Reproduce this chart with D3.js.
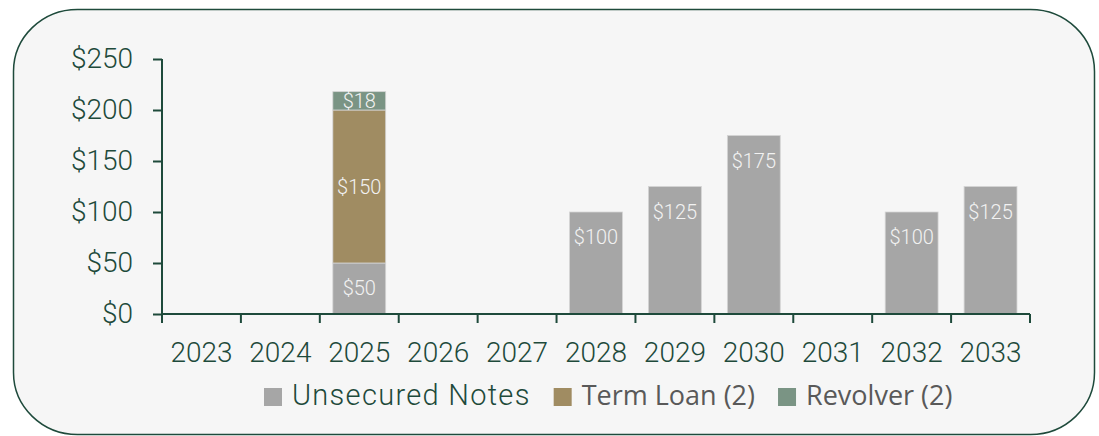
<!DOCTYPE html>
<html>
<head>
<meta charset="utf-8">
<script src="https://cdn.jsdelivr.net/npm/d3@7"></script>
<style>
  body { margin: 0; background: #ffffff; }
  svg text { font-family: Roboto, "Liberation Sans", Arial, sans-serif; font-weight: 300; }
</style>
</head>
<body>
<div id="chart"></div>
<script>
// donnees du graphique
var years = ["2023", "2024", "2025", "2026", "2027", "2028", "2029", "2030", "2031", "2032", "2033"]
var unsecuredNotes = [0, 0, 50, 0, 0, 100, 125, 175, 0, 100, 125]
var termLoan = [0, 0, 150, 0, 0, 0, 0, 0, 0, 0, 0]
var revolver = [0, 0, 18, 0, 0, 0, 0, 0, 0, 0, 0]
var seriesNames = ["Unsecured Notes", "Term Loan (2)", "Revolver (2)"]
var yTicks = [0, 50, 100, 150, 200, 250]

var width = 1099
var height = 436
var green = "#1e4a3b"

var svg = d3.select("#chart")
  .append("svg")
    .attr("width", width)
    .attr("height", height)

// cadre arrondi
svg.append("rect")
  .attr("x", 13.5)
  .attr("y", 9.5)
  .attr("width", 1081)
  .attr("height", 425)
  .attr("rx", 64)
  .attr("ry", 62)
  .style("fill", "#f6f6f6")
  .style("stroke", green)
  .style("stroke-width", 1.5)

// table pour d3.stack
var table = years.map(function(y, i) {
  return { year: y, "Unsecured Notes": unsecuredNotes[i], "Term Loan (2)": termLoan[i], "Revolver (2)": revolver[i] }
})

var color = d3.scaleOrdinal()
  .domain(seriesNames)
  .range(["#a6a6a6", "#a08c62", "#7a9484"])

var x = d3.scaleBand()
  .domain(years)
  .range([162, 1030])
  .padding(0)

var y = d3.scaleLinear()
  .domain([0, 250])
  .range([314, 59])

var barW = x.bandwidth() * 0.67
var barOff = (x.bandwidth() - barW) / 2

var stacked = d3.stack().keys(seriesNames)(table)

// barres
var layers = svg.append("g")
  .selectAll("g")
  .data(stacked)
  .enter()
  .append("g")
    .style("fill", function(d){ return color(d.key) })

layers.selectAll("rect")
  .data(function(d){ return d.filter(function(p){ return p[1] - p[0] > 0 }) })
  .enter()
  .append("rect")
    .attr("x", function(d){ return x(d.data.year) + barOff })
    .attr("y", function(d){ return y(d[1]) })
    .attr("width", barW)
    .attr("height", function(d){ return y(d[0]) - y(d[1]) })
    .style("stroke", "#d4d4d4")
    .style("stroke-width", 0.8)

// etiquettes des barres
layers.each(function(s) {
  d3.select(this).selectAll("text")
    .data(s.filter(function(p){ return p[1] - p[0] > 0 }))
    .enter()
    .append("text")
      .attr("x", function(d){ return x(d.data.year) + x.bandwidth() / 2 })
      .attr("y", function(d){
        // les billets non garantis : etiquette en haut, les autres au centre
        if (s.key == "Unsecured Notes") return y(d[1]) + 25
        return (y(d[0]) + y(d[1])) / 2
      })
      .attr("text-anchor", "middle")
      .attr("dominant-baseline", "central")
      .style("font-size", "20px")
      .style("fill", "#f2f2f2")
      .text(function(d){ return "$" + (d[1] - d[0]) })
})

// axe Y
var yAxis = svg.append("g")
  .attr("transform", "translate(162,0)")
  .call(d3.axisLeft(y).tickValues(yTicks).tickSize(9).tickPadding(20).tickFormat(function(d){ return "$" + d }))
yAxis.select(".domain").remove()
yAxis.append("line")
  .attr("x1", 0).attr("x2", 0)
  .attr("y1", y(250)).attr("y2", y(0))
  .style("stroke", green).style("stroke-width", 2)
yAxis.selectAll("line").style("stroke", green).style("stroke-width", 2)
yAxis.selectAll("text")
  .style("font-size", "28px")
  .style("fill", green)
  .style("font-family", null)

// axe X : graduations entre les categories
var xAxis = svg.append("g")
  .attr("transform", "translate(0,314)")
xAxis.append("line")
  .attr("x1", 162).attr("x2", 1030)
  .style("stroke", green).style("stroke-width", 2)
xAxis.selectAll("line.tick")
  .data(years.concat(["end"]))
  .enter()
  .append("line")
    .attr("class", "tick")
    .attr("x1", function(d){ return d == "end" ? x.range()[1] : x(d) })
    .attr("x2", function(d){ return d == "end" ? x.range()[1] : x(d) })
    .attr("y1", 0)
    .attr("y2", 9)
    .style("stroke", green).style("stroke-width", 2)
xAxis.selectAll("text")
  .data(years)
  .enter()
  .append("text")
    .attr("x", function(d){ return x(d) + x.bandwidth() / 2 })
    .attr("y", 48)
    .attr("text-anchor", "middle")
    .style("font-size", "28px")
    .style("fill", green)
    .text(function(d){ return d })

// legende
var legend = svg.append("g")
var lx = 264
seriesNames.forEach(function(name, i) {
  legend.append("rect")
    .attr("x", lx)
    .attr("y", 388)
    .attr("width", 18)
    .attr("height", 18)
    .style("fill", color(name))
  var t = legend.append("text")
    .attr("x", lx + 28)
    .attr("y", 405)
    .style("font-size", i == 0 ? "29px" : "27px")
    .style("letter-spacing", i == 0 ? "1.3px" : null)
    .style("font-family", i == 0 ? null : "'Open Sans', sans-serif")
    .style("font-weight", i == 0 ? 300 : 400)
    .style("fill", i == 0 ? green : "#595959")
    .text(name)
  lx = lx + 28 + t.node().getComputedTextLength() + 23
})
</script>
</body>
</html>
